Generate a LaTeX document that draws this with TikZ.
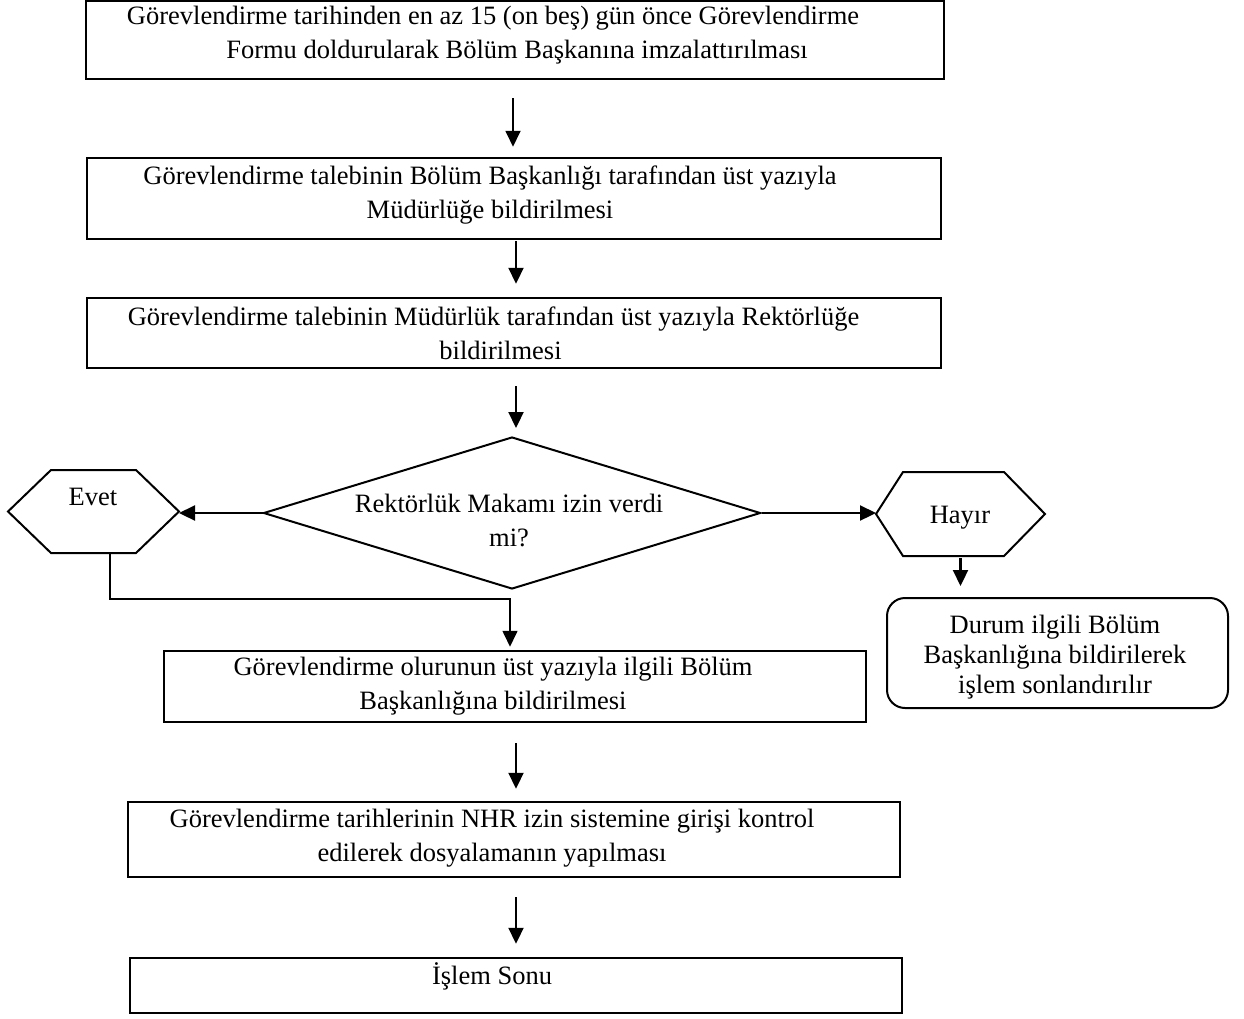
\documentclass[tikz,border=0pt]{standalone}
\usepackage{fontspec}
\setmainfont{Liberation Serif}
\usetikzlibrary{arrows.meta,shapes.geometric,calc}
\begin{document}
\begin{tikzpicture}[x=1pt,y=-1pt,
  box/.style={draw,line width=2.5pt,inner sep=0pt},
  shp/.style={draw,line width=2pt,inner sep=0pt},
  ghost/.style={inner sep=0pt,outer sep=0pt},
  txt/.style={align=center,font=\fontsize{26.5}{34}\selectfont,inner sep=0pt},
  arr/.style={line width=2.2pt,-{Triangle[length=16pt,width=15pt]}}]
\useasboundingbox (0,0) rectangle (1244,1018);

% boxes
\node[box,minimum width=858pt,minimum height=78pt] (b1) at (515,40) {};
\node[box,minimum width=854pt,minimum height=81pt] (b2) at (514,198.5) {};
\node[box,minimum width=854pt,minimum height=70pt] (b3) at (514,333) {};
\node[box,minimum width=702pt,minimum height=71pt] (b4) at (515,686.5) {};
\node[box,minimum width=772pt,minimum height=75pt] (b5) at (514,839.5) {};
\node[box,minimum width=772pt,minimum height=55pt] (b6) at (516,985.5) {};

% texts
\node[txt] (t1) at (505,35) {Görevlendirme tarihinden en az 15 (on beş) gün önce Görevlendirme\hspace*{24pt}\\\hspace*{24pt}Formu doldurularak Bölüm Başkanına imzalattırılması};
\node[txt] (t2) at (490,195) {Görevlendirme talebinin Bölüm Başkanlığı tarafından üst yazıyla\\Müdürlüğe bildirilmesi};
\node[txt] (t3) at (497,333) {Görevlendirme talebinin Müdürlük tarafından üst yazıyla Rektörlüğe\hspace*{7pt}\\\hspace*{7pt}bildirilmesi};
\node[txt] (t4) at (493,686) {Görevlendirme olurunun üst yazıyla ilgili Bölüm\\Başkanlığına bildirilmesi};
\node[txt] (t5) at (495,838) {Görevlendirme tarihlerinin NHR izin sistemine girişi kontrol\hspace*{6pt}\\edilerek dosyalamanın yapılması\hspace*{6pt}};
\node[txt] (t6) at (492,976) {İşlem Sonu};

% decision
\node[shp,diamond,minimum width=497pt,minimum height=152pt] (dia) at (512,513) {};
\node[txt] (tdia) at (509,520) {Rektörlük Makamı izin verdi\\mi?};

% hexagons
\node[ghost,minimum width=171pt,minimum height=83pt] (evet) at (93.5,511.5) {};
\draw[line width=2pt] (evet.west) -- ([xshift=43pt]evet.north west) -- ([xshift=-43pt]evet.north east) -- (evet.east) -- ([xshift=-43pt]evet.south east) -- ([xshift=43pt]evet.south west) -- cycle;
\node[txt] (tevet) at (93,497) {Evet};

\node[ghost,minimum width=169pt,minimum height=84pt] (hayir) at (960.5,514) {};
\draw[line width=2pt] (hayir.west) -- ([xshift=27pt]hayir.north west) -- ([xshift=-41pt]hayir.north east) -- (hayir.east) -- ([xshift=-41pt]hayir.south east) -- ([xshift=27pt]hayir.south west) -- cycle;
\node[txt] (thayir) at (960,518) {Hayır};

% rounded end box
\node[shp,rounded corners=18pt,minimum width=341pt,minimum height=110pt] (durum) at (1057.5,653) {};
\node[txt,font=\fontsize{26.5}{30}\selectfont] (tdurum) at (1055,657) {Durum ilgili Bölüm\\Başkanlığına bildirilerek\\işlem sonlandırılır};

% connectors
\coordinate (x1) at (513,0);
\coordinate (x2) at (516,0);
\coordinate (x4) at (510,0);
\draw[arr,line width=1.8pt,shorten <=18pt,shorten >=10pt] (b1.south -| x1) -- (b2.north -| x1);
\draw[arr,shorten <=1pt,shorten >=13pt] (b2.south -| x2) -- (b3.north -| x2);
\draw[arr,shorten <=17pt,shorten >=8pt] (b3.south -| x2) -- (dia.north -| x2);
\draw[arr,shorten <=-5pt] (dia.west) -- (dia.west -| evet.east);
\draw[arr] (dia.east) -- (dia.east -| hayir.west);
\draw[arr,shorten <=2pt,shorten >=11pt] (hayir.south) -- (hayir.south |- durum.north);
\draw[arr,line width=1.6pt,shorten >=3pt] ([xshift=16.5pt]evet.south) -- ++(0,46) -| (b4.north -| x4);
\draw[arr,shorten <=20pt,shorten >=12pt] (b4.south -| x2) -- (b5.north -| x2);
\draw[arr,shorten <=19pt,shorten >=13pt] (b5.south -| x2) -- (b6.north -| x2);
\end{tikzpicture}
\end{document}
